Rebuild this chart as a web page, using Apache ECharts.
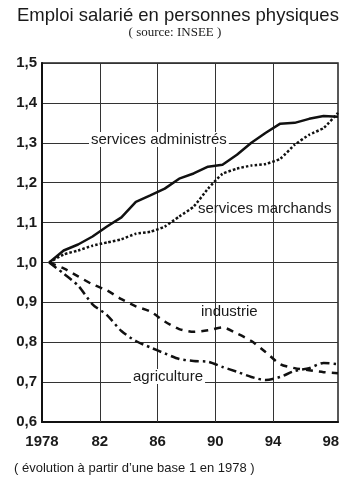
<!DOCTYPE html>
<html lang="fr">
<head>
<meta charset="utf-8">
<title>Emploi salarié en personnes physiques</title>
<script src="https://cdn.jsdelivr.net/npm/echarts@6/dist/echarts.min.js"></script>
<style>
  html, body { margin: 0; padding: 0; background: #fff; }
  #chart { width: 350px; height: 484px; }
</style>
</head>
<body>
<div id="chart"></div>
<script>
// Annual series, index 1978 = 1
const years = [1978, 1979, 1980, 1981, 1982, 1983, 1984, 1985, 1986, 1987, 1988,
               1989, 1990, 1991, 1992, 1993, 1994, 1995, 1996, 1997, 1998];
const servicesAdministres = [1.00, 1.03, 1.045, 1.065, 1.09, 1.113, 1.152, 1.168, 1.185, 1.21, 1.223,
                             1.24, 1.245, 1.27, 1.30, 1.325, 1.348, 1.35, 1.36, 1.367, 1.365];
const servicesMarchands = [1.00, 1.02, 1.03, 1.042, 1.05, 1.058, 1.072, 1.077, 1.09, 1.115, 1.14,
                           1.185, 1.222, 1.235, 1.243, 1.247, 1.26, 1.295, 1.32, 1.337, 1.375];
const industrie = [1.00, 0.985, 0.965, 0.945, 0.93, 0.908, 0.89, 0.877, 0.852, 0.833, 0.826,
                   0.83, 0.837, 0.822, 0.803, 0.775, 0.745, 0.735, 0.73, 0.725, 0.722];
const agriculture = [1.00, 0.972, 0.942, 0.895, 0.868, 0.828, 0.803, 0.787, 0.772, 0.758, 0.753,
                     0.751, 0.738, 0.726, 0.713, 0.705, 0.713, 0.728, 0.735, 0.748, 0.745];

// Axis labels
const yearTickLabels = { 1978: '1978', 1982: '82', 1986: '86', 1990: '90', 1994: '94', 1998: '98' };
const verticalGridYears = [1982, 1986, 1990, 1994];
const yMin = 0.6, yMax = 1.5, yStep = 0.1;

const titleText = 'Emploi salarié en personnes physiques';
const sourceText = '( source: INSEE )';
const noteText = '( évolution à partir d\u2019une base 1 en 1978 )';

// Yearly averages sit at mid-year on the time axis
const toPoints = values => years.map((y, i) => [y + 0.5, values[i]]);

const SANS = '"Liberation Sans", Arial, Helvetica, sans-serif';
const SERIF = '"Liberation Serif", "Times New Roman", serif';
const INK = '#1a1a1a';

const chart = echarts.init(document.getElementById('chart'), null, { renderer: 'canvas' });

const lineBase = (name, values, dash, smooth) => ({
  name,
  type: 'line',
  data: toPoints(values),
  showSymbol: false,
  symbol: 'none',
  smooth,
  z: 5,
  lineStyle: { color: '#111', width: 2.5, type: dash, cap: 'butt', join: 'round' }
});

const inlineLabel = (text, left, top, bg) => ({
  type: 'text',
  left, top,
  z: 20,
  style: {
    text,
    fill: INK,
    font: '15px ' + SANS,
    backgroundColor: bg ? '#fff' : null,
    padding: bg ? [0, 2] : 0
  }
});

chart.setOption({
  backgroundColor: '#fff',
  animation: false,
  title: [
    {
      text: titleText, left: 17, top: 6, padding: 0,
      textStyle: { fontFamily: SANS, fontSize: 18.5, fontWeight: 'normal', color: INK }
    },
    {
      text: sourceText, left: 'center', top: 26, padding: 0,
      textStyle: { fontFamily: SERIF, fontSize: 13, fontWeight: 'normal', color: INK }
    },
    {
      text: noteText, left: 14, top: 462, padding: 0,
      textStyle: { fontFamily: SANS, fontSize: 13, fontWeight: 'normal', color: INK }
    }
  ],
  grid: {
    left: 42, right: 12, top: 63, bottom: 62,
    show: true, borderColor: '#222', borderWidth: 1.5, backgroundColor: 'transparent'
  },
  xAxis: {
    type: 'value',
    min: 1978, max: 1998.5, interval: 4,
    axisLine: { show: true, onZero: false, lineStyle: { color: '#111', width: 2 } },
    axisTick: { show: false },
    splitLine: { show: false },
    axisLabel: {
      margin: 12,
      color: INK, fontFamily: SANS, fontSize: 15, fontWeight: 'bold',
      formatter: v => yearTickLabels[v] || ''
    }
  },
  yAxis: {
    type: 'value',
    min: yMin, max: yMax, interval: yStep,
    axisLine: { show: true, lineStyle: { color: '#111', width: 2 } },
    axisTick: { show: false },
    splitLine: { show: true, lineStyle: { color: '#333', width: 1 } },
    axisLabel: {
      margin: 5,
      color: INK, fontFamily: SANS, fontSize: 15, fontWeight: 'bold',
      formatter: v => v.toFixed(1).replace('.', ',')
    }
  },
  series: [
    Object.assign(lineBase('services administrés', servicesAdministres, 'solid', false), {
      markLine: {
        silent: true, symbol: 'none', z: 1,
        label: { show: false },
        lineStyle: { color: '#333', width: 1, type: 'solid' },
        data: verticalGridYears.map(y => ({ xAxis: y }))
      }
    }),
    lineBase('services marchands', servicesMarchands, [2.5, 2], 0.15),
    lineBase('industrie', industrie, [7, 6], 0.25),
    lineBase('agriculture', agriculture, [9, 4, 2.5, 4], 0.25)
  ],
  graphic: [
    inlineLabel('services administrés', 89, 132, true),
    inlineLabel('services marchands', 198, 201, false),
    inlineLabel('industrie', 201, 304, false),
    inlineLabel('agriculture', 131, 369, true)
  ]
});
</script>
</body>
</html>
